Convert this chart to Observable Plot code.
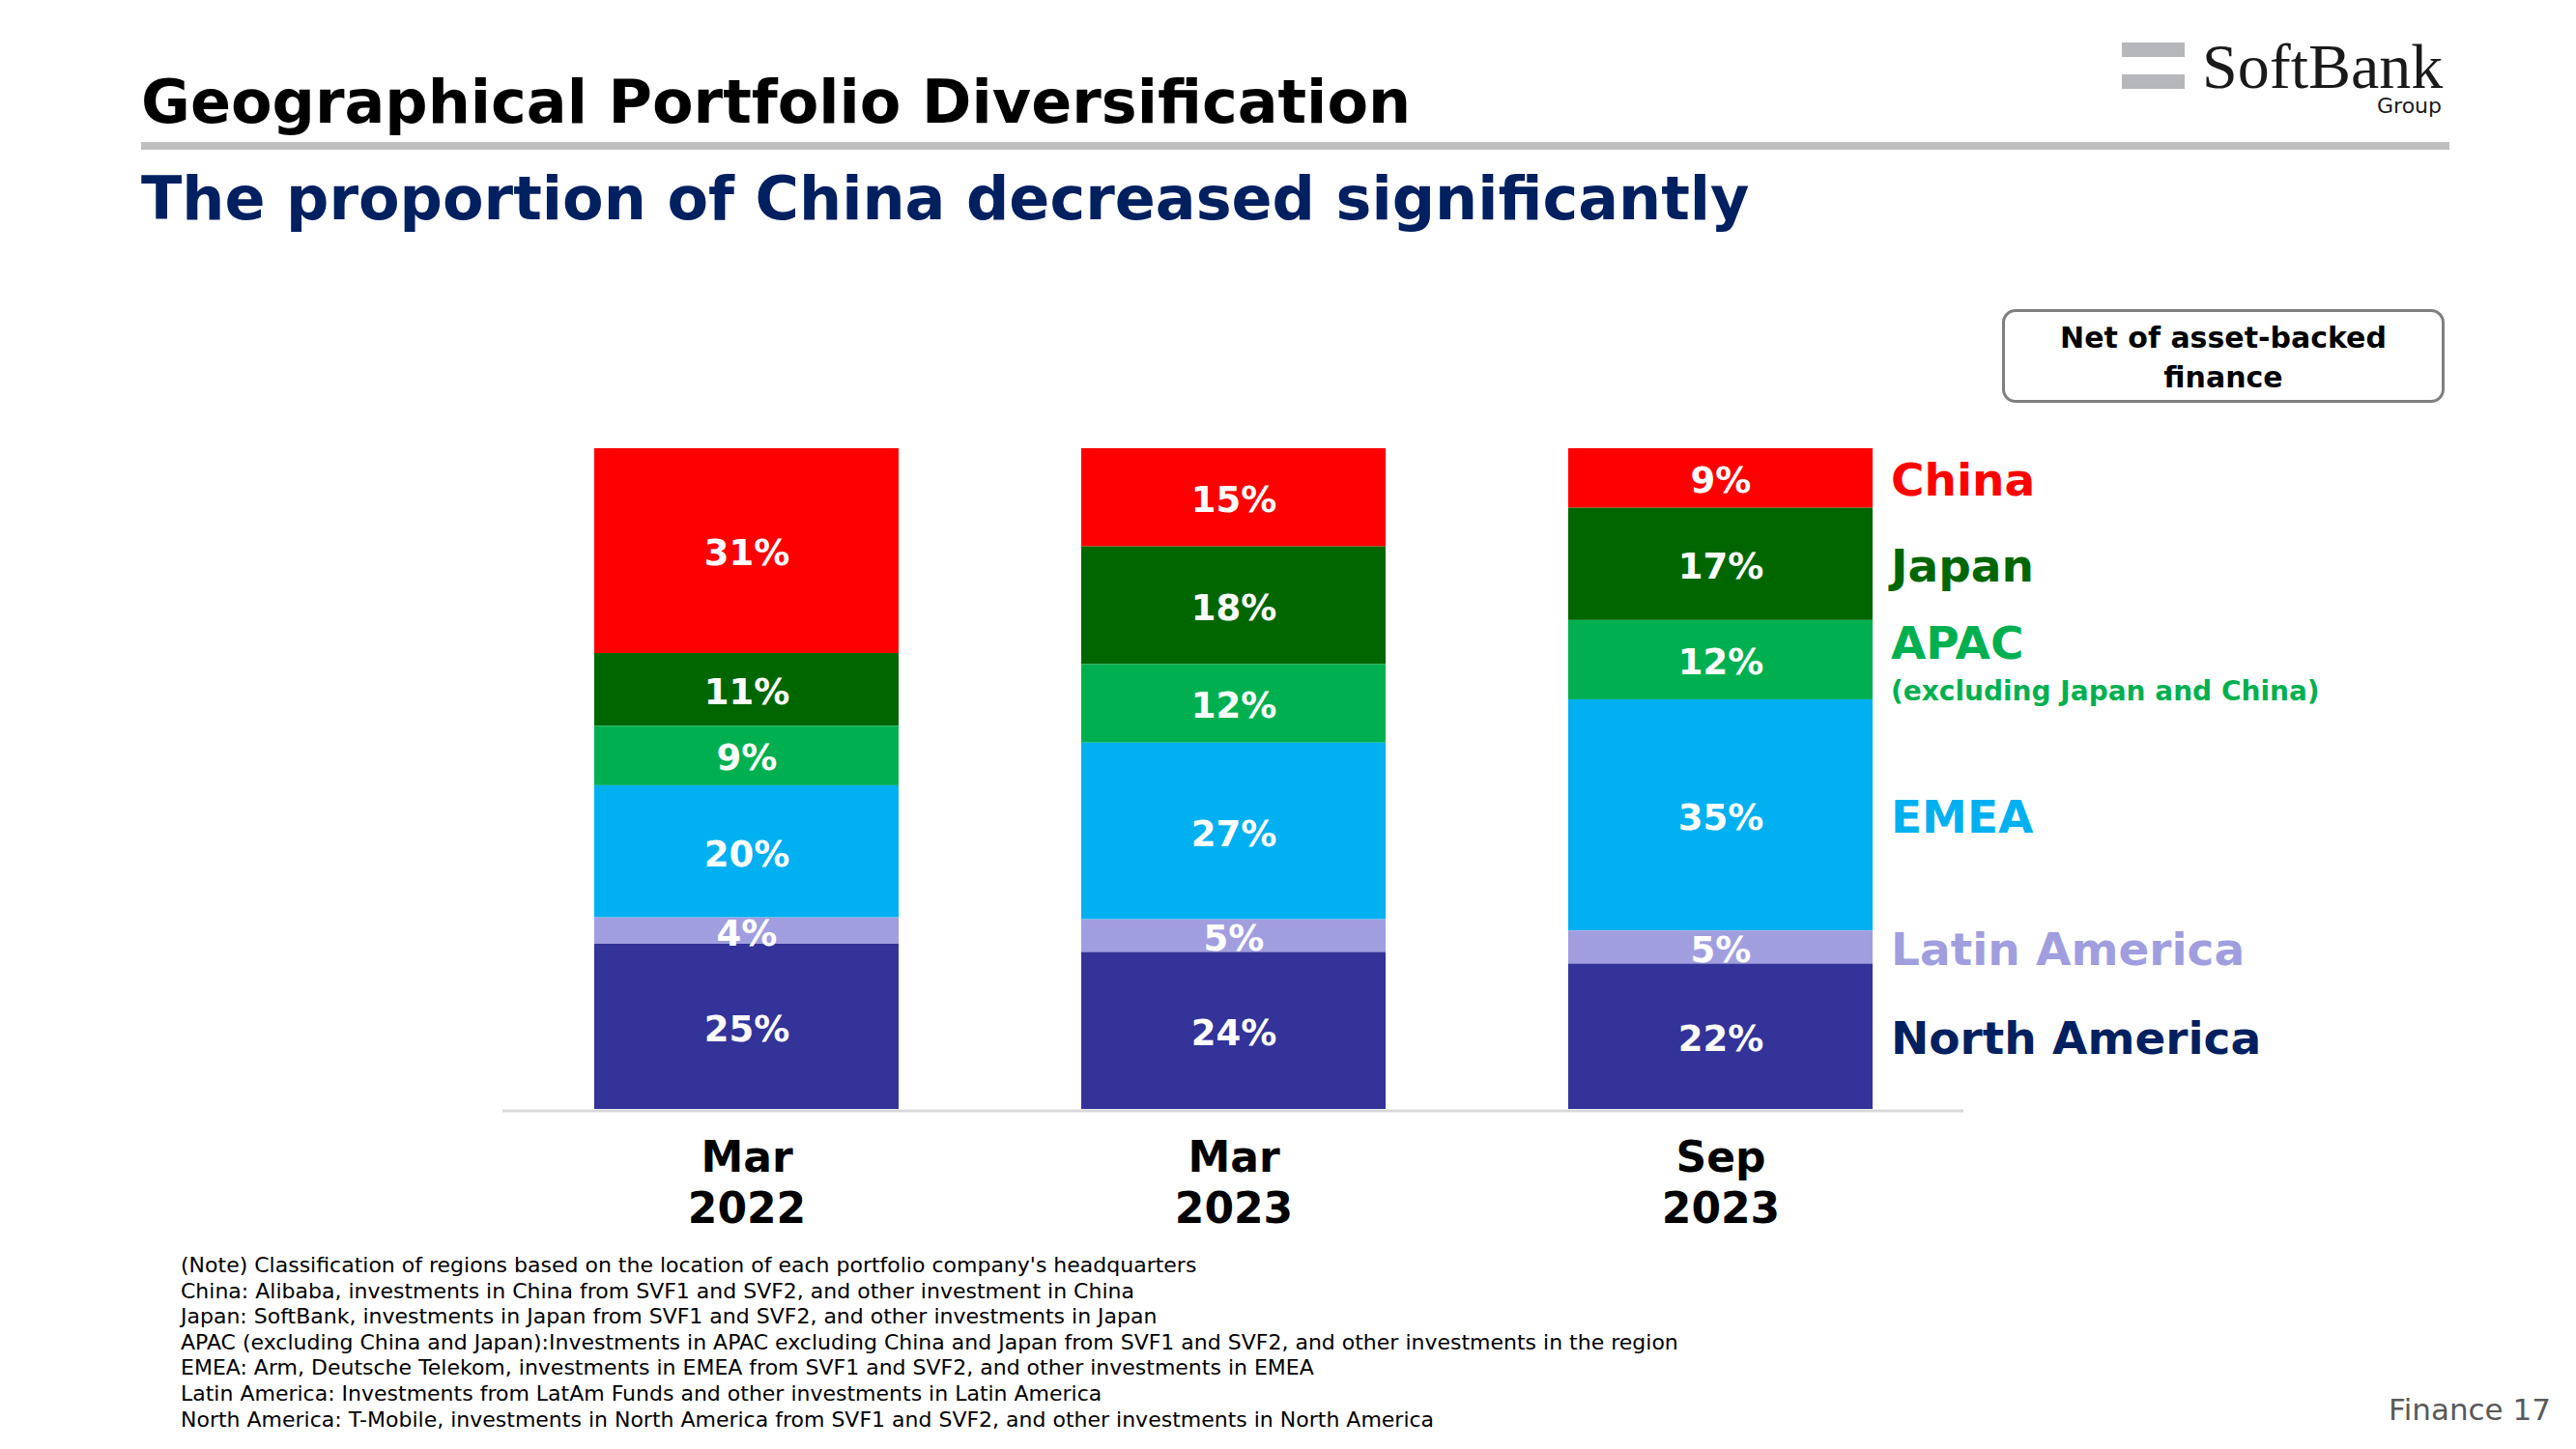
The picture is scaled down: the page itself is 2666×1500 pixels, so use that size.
<!DOCTYPE html>
<html>
<head>
<meta charset="utf-8">
<script src="https://cdn.jsdelivr.net/npm/d3@7"></script>
<script src="https://cdn.jsdelivr.net/npm/@observablehq/plot@0.6"></script>
<style>
html, body { margin: 0; padding: 0; background: #fff; }
body { width: 2666px; height: 1500px; position: relative; overflow: hidden; font-family: "DejaVu Sans", Verdana, sans-serif; }
.abs { position: absolute; white-space: nowrap; }
#title { left: 146px; top: 75px; font-size: 62px; line-height: 62px; font-weight: bold; color: #000; }
#rule { left: 146px; top: 147px; width: 2389px; height: 8px; background: #BFBFBF; }
#subtitle { left: 146px; top: 175px; font-size: 62px; line-height: 62px; font-weight: bold; color: #002060; }
#bar1 { left: 2196px; top: 44px; width: 65px; height: 15px; background: #B5B7BA; }
#bar2 { left: 2196px; top: 77px; width: 65px; height: 15px; background: #B5B7BA; }
#softbank { left: 2279px; top: 44px; font-family: "Liberation Serif", serif; font-size: 66px; line-height: 50px; color: #1a1a1a; }
#group { right: 139px; top: 99px; font-size: 22px; line-height: 22px; color: #1a1a1a; }
#box { left: 2072px; top: 320px; width: 458px; height: 97px; box-sizing: border-box; border: 3px solid #7F7F7F; border-radius: 14px;
       padding-top: 6px; text-align: center; font-size: 30px; line-height: 41px; font-weight: bold; color: #000; }
#chart { left: 0; top: 440px; }
#notes { left: 187px; top: 1297px; font-size: 22px; line-height: 26.6px; color: #000; }
#page { right: 26px; top: 1444px; font-size: 31px; line-height: 31px; color: #595959; }
</style>
</head>
<body>
<div id="title" class="abs">Geographical Portfolio Diversification</div>
<div id="rule" class="abs"></div>
<div id="subtitle" class="abs">The proportion of China decreased significantly</div>
<div id="bar1" class="abs"></div>
<div id="bar2" class="abs"></div>
<div id="softbank" class="abs">SoftBank</div>
<div id="group" class="abs">Group</div>
<div id="box" class="abs">Net of asset-backed<br>finance</div>
<div id="chart" class="abs"></div>
<div id="notes" class="abs"></div>
<div id="page" class="abs">Finance 17</div>
<script>
// ---- data ----
const periods = ["Mar 2022", "Mar 2023", "Sep 2023"];
const regions = ["China", "Japan", "APAC", "EMEA", "Latin America", "North America"];
const china = [31, 15, 9];
const japan = [11, 18, 17];
const apac = [9, 12, 12];
const emea = [20, 27, 35];
const latinAmerica = [4, 5, 5];
const northAmerica = [25, 24, 22];
const barColors = ["#FF0000", "#006600", "#00B050", "#00B0F0", "#A09EDE", "#333399"];
const labelColors = ["#FF0000", "#006600", "#00B050", "#00B0F0", "#A09EDE", "#002060"];
const stackOrder = ["North America", "Latin America", "EMEA", "APAC", "Japan", "China"];
const apacNote = "(excluding Japan and China)";
const notes = [
  "(Note) Classification of regions based on the location of each portfolio company's headquarters",
  "China: Alibaba, investments in China from SVF1 and SVF2, and other investment in China",
  "Japan: SoftBank, investments in Japan from SVF1 and SVF2, and other investments in Japan",
  "APAC (excluding China and Japan):Investments in APAC excluding China and Japan from SVF1 and SVF2, and other investments in the region",
  "EMEA: Arm, Deutsche Telekom, investments in EMEA from SVF1 and SVF2, and other investments in EMEA",
  "Latin America: Investments from LatAm Funds and other investments in Latin America",
  "North America: T-Mobile, investments in North America from SVF1 and SVF2, and other investments in North America"
];

const series = [china, japan, apac, emea, latinAmerica, northAmerica];
const data = periods.flatMap((p, i) => regions.map((r, j) => ({period: p, region: r, value: series[j][i]})));
const lastPeriod = periods[periods.length - 1];

const stackOpts = {x: "period", y: "value", z: "region", order: stackOrder, offset: "normalize"};

const regionLabelMarks = regions.flatMap((r, j) => {
  const base = {
    ...stackOpts,
    fill: labelColors[j],
    fontWeight: "bold",
    textAnchor: "start",
    dx: 176
  };
  if (r === "APAC") {
    return [
      Plot.text(data, Plot.stackY({...base, fontSize: 47, dy: -16,
        text: d => (d.period === lastPeriod && d.region === r) ? r : null})),
      Plot.text(data, Plot.stackY({...base, fontSize: 28, dy: 33,
        text: d => (d.period === lastPeriod && d.region === r) ? apacNote : null}))
    ];
  }
  return [Plot.text(data, Plot.stackY({...base, fontSize: 47, dy: 3,
    text: d => (d.period === lastPeriod && d.region === r) ? r : null}))];
});

const chart = Plot.plot({
  width: 2666,
  height: 848,
  marginLeft: 520,
  marginRight: 634,
  marginTop: 24,
  marginBottom: 140,
  style: {fontFamily: "DejaVu Sans, Verdana, sans-serif", color: "#000", background: "transparent"},
  x: {domain: periods, paddingInner: 0.375, paddingOuter: 0.1875, label: null},
  y: {domain: [0, 1], axis: null},
  color: {domain: regions, range: barColors},
  marks: [
    Plot.barY(data, {...stackOpts, fill: "region"}),
    Plot.ruleY([0], {stroke: "#D9D9D9", strokeWidth: 3, dy: 1.5}),
    Plot.text(data, Plot.stackY({...stackOpts, text: d => d.value + "%", fill: "white", fontSize: 37, fontWeight: "bold", dy: 3})),
    ...regionLabelMarks,
    Plot.axisX({tickSize: 0, tickPadding: 27, fontSize: 44, fontWeight: "bold", lineHeight: 1.2,
      tickFormat: d => d.replace(" ", "\n"), label: null, fill: "#000"})
  ]
});
document.getElementById("chart").appendChild(chart);

const notesEl = document.getElementById("notes");
notes.forEach(t => { const div = document.createElement("div"); div.textContent = t; notesEl.appendChild(div); });
</script>
</body>
</html>
